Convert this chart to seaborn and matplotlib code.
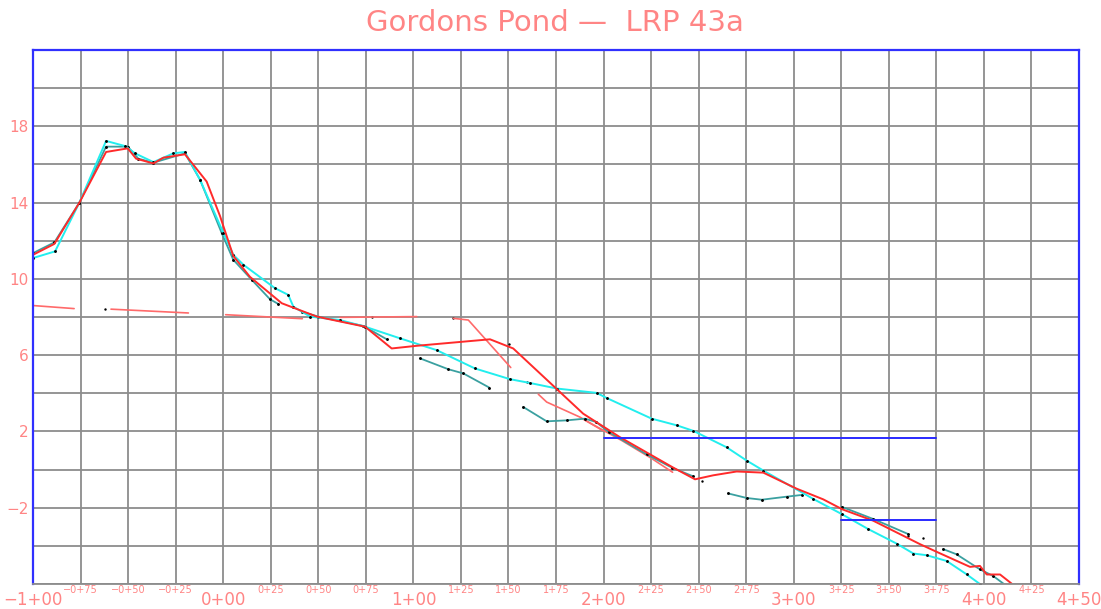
import numpy as np
import pandas as pd
import matplotlib
matplotlib.use("Agg")
import matplotlib.pyplot as plt
import seaborn as sns

# ---- profile data (station in ft, elevation in ft) ----
red_x = [-100, -88.8, -75.6, -61.6, -50.2, -45.8, -36.7, -31.5, -20.1, -8.7, -1.7, 5.3, 14.1, 30.8,
         49.2, 74.6, 88.6, 101.8, 140.3, 152.5, 189.3, 208.6, 236.7, 248.1, 257.7, 270, 284, 301.5,
         315.5, 325.7, 341.8, 366.4, 376, 392.7, 397.9, 401.5, 408.5, 414.6]
red_y = [11.26, 11.83, 14.0, 16.65, 16.84, 16.3, 16.05, 16.35, 16.53, 15.1, 13.3, 11.2, 10.1, 8.72,
         8.02, 7.49, 6.35, 6.49, 6.83, 6.35, 2.93, 1.70, 0.1, -0.51, -0.3, -0.1, -0.16, -1.0,
         -1.56, -2.09, -2.68, -3.91, -4.35, -5.1, -5.05, -5.5, -5.5, -5.98]

cyan_x = [-100, -88.4, -75.6, -61.6, -51.6, -46.4, -36.7, -26.2, -20.1, -12.2, 0.1, 5.3, 10.6, 27.2,
          34.2, 36.9, 45.7, 61.4, 74.6, 93, 112.3, 132.4, 150.8, 161.3, 175.4, 196.4, 201.7, 225.3,
          238.5, 247.2, 264.7, 275.3, 284, 310.3, 325.2, 339.2, 354.1, 362.9, 369.9, 380.4, 390.9, 397.9]
cyan_y = [11.09, 11.44, 14.0, 17.23, 16.96, 16.58, 16.12, 16.58, 16.65, 15.2, 12.4, 11.26, 10.74, 9.51,
          9.16, 8.54, 8.02, 7.84, 7.49, 6.88, 6.26, 5.3, 4.74, 4.54, 4.25, 4.02, 3.75, 2.67,
          2.32, 2.03, 1.17, 0.47, -0.05, -1.54, -2.33, -3.12, -3.88, -4.4, -4.49, -4.79, -5.49, -6.0]

teal_segments = [
    ([-100, -88.8, -75.6, -61.6, -50.2, -44.6, -36.7, -20.1, -12.2, -0.8, 5.3, 15, 24.6, 29],
     [11.35, 11.91, 14.0, 16.93, 16.93, 16.3, 16.09, 16.58, 15.2, 12.4, 11.0, 9.95, 8.93, 8.68]),
    ([41.3, 50, 73.7, 86], [8.28, 8.02, 7.53, 6.83]),
    ([103.5, 118.4, 126.3, 139.9], [5.83, 5.26, 5.04, 4.3]),
    ([157.8, 170.1, 180.6, 190.2, 196, 203, 222.6, 236, 247], [3.28, 2.53, 2.58, 2.67, 2.5, 1.95, 0.8, 0.1, -0.35]),
    ([265.5, 275.3, 283.2, 296.3, 304.2], [-1.25, -1.49, -1.58, -1.42, -1.33]),
    ([325.2, 341.8, 360.2], [-1.95, -2.59, -3.38]),
    ([378.6, 385.6, 397.9, 404.9, 411.9], [-4.17, -4.44, -5.23, -5.58, -6.1]),
]

pink_segments = [
    ([-100, -78.4], [8.6, 8.44]),
    ([-59, -18.3], [8.41, 8.21]),
    ([1.3, 41.6], [8.12, 7.91]),
    ([61.4, 101.8], [7.98, 8.02]),
    ([121, 128.9, 151.2], [7.93, 7.84, 5.35]),
    ([165.7, 170.1, 187.6, 199.5], [3.95, 3.54, 2.75, 2.05]),
    ([190, 210, 225, 236.3], [2.6, 1.5, 0.6, -0.14]),
]

blue_x = [[200, 375], [325, 375]]
blue_y = [[1.68, 1.68], [-2.63, -2.63]]

dot_x = [-62, 78, 121, 150.5, 160, 252, 360, 368]
dot_y = [8.4, 8.0, 7.93, 6.6, 4.6, -0.6, -3.5, -3.6]

title = "Gordons Pond \u2014  LRP 43a"
label_col = "#ff8585"

sns.set_style("white")
fig, ax = plt.subplots(figsize=(11.01, 6.09), dpi=100)
fig.subplots_adjust(left=0.030, right=0.980, bottom=0.041, top=0.918)

def seg(x, y, color, lw, **kw):
    sns.lineplot(x=x, y=y, color=color, lw=lw, sort=False, estimator=None, ax=ax, **kw)

for xs, ys in pink_segments:
    seg(xs, ys, "#ff6a6a", 1.2)
for xs, ys in teal_segments:
    seg(xs, ys, "#3aa0a0", 1.3, marker="o", markersize=1.3,
        markerfacecolor="black", markeredgecolor="black")
seg(cyan_x, cyan_y, "#22eeee", 1.4, marker="o", markersize=1.3,
    markerfacecolor="black", markeredgecolor="black")
seg(red_x, red_y, "#ff2a2a", 1.4)
for xs, ys in zip(blue_x, blue_y):
    seg(xs, ys, "#2a2aff", 1.4)
sns.scatterplot(x=dot_x, y=dot_y, color="black", s=3, ax=ax, linewidth=0)

ax.set_xlim(-100, 450)
ax.set_ylim(-6, 22)

def sta(v):
    s = "\u2212" if v < 0 else ""
    v = abs(v)
    return f"{s}{v // 100}+{v % 100:02d}"

major_x = [-100, 0, 100, 200, 300, 400, 450]
minor_x = [v for v in range(-100, 451, 25) if v not in major_x]
ax.set_xticks(major_x)
ax.set_xticklabels([sta(v) for v in major_x])
ax.set_xticks(minor_x, minor=True)
ax.set_xticklabels([sta(v) for v in minor_x], minor=True)
ax.tick_params(axis="x", which="major", labelsize=12, pad=5, length=0, labelcolor=label_col)
ax.tick_params(axis="x", which="minor", labelsize=7, pad=1, length=0, labelcolor=label_col)

major_y = [-2, 2, 6, 10, 14, 18]
ax.set_yticks(major_y)
ax.set_yticklabels([str(v).replace("-", "\u2212") for v in major_y])
ax.set_yticks([v for v in range(-6, 23, 2) if v not in major_y], minor=True)
ax.tick_params(axis="y", which="both", labelsize=11, pad=3, length=0, labelcolor=label_col)

ax.grid(True, which="both", color="#8c8c8c", lw=1.3)
ax.set_axisbelow(True)
for side in ["left", "top", "right"]:
    ax.spines[side].set_color("#3030ff")
    ax.spines[side].set_linewidth(1.6)
ax.spines["bottom"].set_color("#8c8c8c")
ax.spines["bottom"].set_linewidth(1.3)
ax.set_xlabel("")
ax.set_ylabel("")

fig.text(0.504, 0.963, title, ha="center", va="center", fontsize=21, color=label_col)

fig.savefig("out.png", dpi=100)
